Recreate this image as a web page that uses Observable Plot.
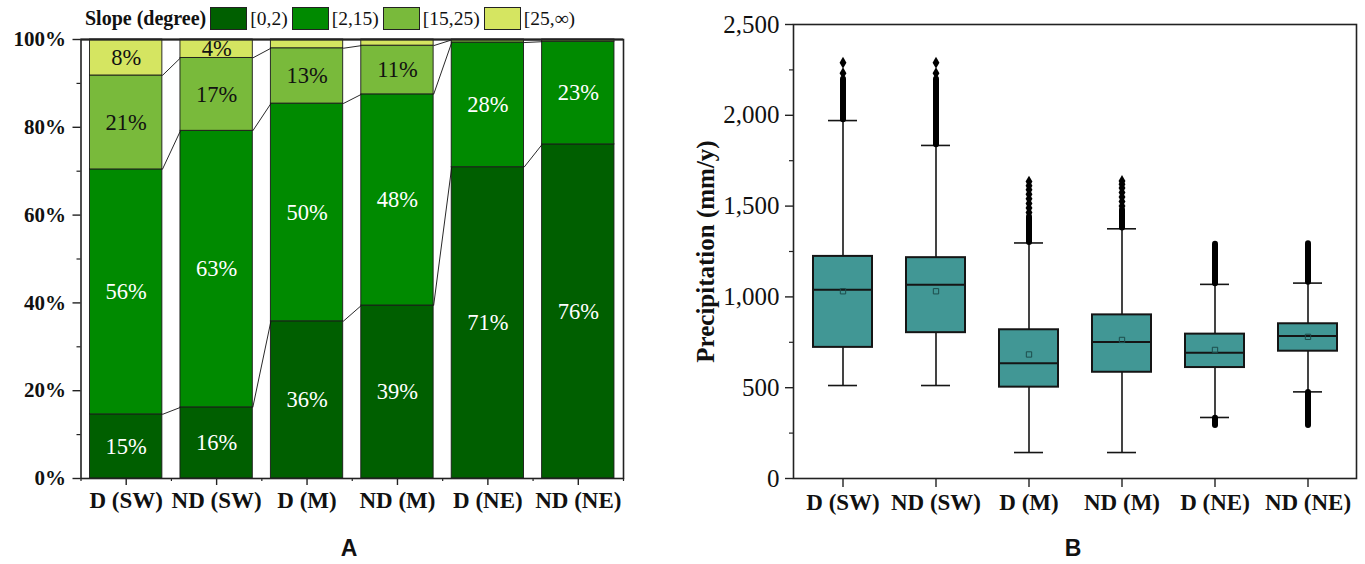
<!DOCTYPE html>
<html>
<head>
<meta charset="utf-8">
<script src="https://cdn.jsdelivr.net/npm/d3@7"></script>
<script src="https://cdn.jsdelivr.net/npm/@observablehq/plot@0.6"></script>
<style>
  html, body { margin: 0; padding: 0; background: #fff; }
  #wrap { position: relative; width: 1365px; height: 564px; background: #fff; overflow: hidden; }
  #left { position: absolute; left: 0; top: 0; }
  #right { position: absolute; left: 640px; top: 0; }
  #legend { position: absolute; left: 85px; top: 7px; display: flex; align-items: center; font-family: "Liberation Serif", serif; color: #111; }
  #legend .title { font-weight: bold; font-size: 20px; margin-right: 4px; }
  #legend .sw { width: 37px; height: 23px; border: 1px solid #222; box-sizing: border-box; margin-right: 3px; }
  #legend .lab { font-size: 19.5px; margin-right: 4px; }
  .cap { position: absolute; top: 535px; font-family: "Liberation Sans", Arial, sans-serif; font-weight: bold; font-size: 23px; color: #111; transform: translateX(-50%); }
</style>
</head>
<body>
<div id="wrap">
  <div id="left"></div>
  <div id="right"></div>
  <div id="legend"></div>
  <div class="cap" style="left:349px">A</div>
  <div class="cap" style="left:1073px">B</div>
</div>
<script>
// ---------- data ----------
const categories = ["D (SW)", "ND (SW)", "D (M)", "ND (M)", "D (NE)", "ND (NE)"];
const slopeClasses = ["[0,2)", "[2,15)", "[15,25)", "[25,∞)"];
const slopeColors = ["#005f00", "#008a00", "#79ba3b", "#d5e561"];
// percentages per slope class, per category
const slope0_2   = [14.6, 16.2, 35.8, 39.4, 70.9, 76.1];
const slope2_15  = [55.8, 63.0, 49.6, 48.1, 28.4, 23.4];
const slope15_25 = [21.4, 16.6, 12.6, 11.1, 0.6, 0.4];
const slope25_inf= [8.2, 4.2, 2.0, 1.4, 0.1, 0.1];
const yTicksA = [0, 20, 40, 60, 80, 100];
const yMinorA = [10, 30, 50, 70, 90];

// boxplot summary (precipitation, mm/y)
const lowerWhisker = [512, 512, 143, 143, 336, 477];
const q1           = [722, 803, 503, 585, 611, 701];
const median       = [1039, 1067, 634, 752, 692, 785];
const mean         = [1031, 1031, 683, 763, 708, 780];
const q3           = [1223, 1216, 819, 901, 795, 852];
const upperWhisker = [1971, 1834, 1297, 1375, 1069, 1076];
// dense outlier runs [category index, from, to]
const outlierRunsCat = [0, 1, 2, 3, 4, 4, 5, 5];
const outlierRunsLo  = [1975, 1838, 1300, 1379, 1073, 292, 1080, 292];
const outlierRunsHi  = [2198, 2198, 1440, 1478, 1290, 332, 1292, 473];
// individual outliers [category index, value]
const outlierCat = [0, 0, 1, 1, 2, 2, 2, 2, 2, 2, 2, 2, 3, 3, 3, 3, 3, 3, 3];
const outlierVal = [2232, 2290, 2232, 2290, 1465, 1490, 1515, 1540, 1565, 1590, 1612, 1635, 1500, 1525, 1550, 1575, 1600, 1620, 1638];
const yTicksB = [0, 500, 1000, 1500, 2000, 2500];
const yMinorB = [250, 750, 1250, 1750, 2250];

// ---------- legend ----------
const legend = document.getElementById("legend");
legend.innerHTML = `<span class="title">Slope (degree)</span>` +
  slopeClasses.map((c, k) => `<span class="sw" style="background:${slopeColors[k]}"></span><span class="lab">${c}</span>`).join("");

// ---------- chart A ----------
const serif = "Liberation Serif, Times New Roman, serif";
const series = [slope0_2, slope2_15, slope15_25, slope25_inf];
const rows = [];
const tops = [];
categories.forEach((cat, i) => {
  let acc = 0;
  series.forEach((s, k) => {
    const v = s[i];
    rows.push({i, k, cls: slopeClasses[k], y1: acc, y2: acc + v, v});
    acc += v;
    (tops[k] ||= [])[i] = acc;
  });
});
const links = [];
for (let k = 0; k < 3; k++) {
  for (let i = 0; i < categories.length - 1; i++) {
    links.push({i, ya: tops[k][i], yb: tops[k][i + 1]});
  }
}
const half = 0.4;
const idx = categories.map((_, i) => i);
const bounds = [-0.5, ...idx.map(i => i + 0.5)];

const chartA = Plot.plot({
  width: 640, height: 520,
  marginLeft: 80.5, marginRight: 17, marginTop: 39, marginBottom: 42,
  style: {fontFamily: serif, background: "transparent"},
  x: {domain: [-0.5, categories.length - 0.5], axis: null},
  y: {domain: [0, 100], axis: null},
  color: {domain: slopeClasses, range: slopeColors},
  marks: [
    Plot.rect(rows, {x1: d => d.i - half, x2: d => d.i + half, y1: "y1", y2: "y2", fill: "cls", stroke: "#1a1a1a", strokeWidth: 0.9}),
    Plot.link(links, {x1: d => d.i + half, x2: d => d.i + 1 - half, y1: "ya", y2: "yb", stroke: "#111", strokeWidth: 0.9}),
    Plot.text(rows.filter(d => d.v >= 3 && d.k < 2), {x: "i", y: d => (d.y1 + d.y2) / 2, text: d => Math.round(d.v) + "%", fill: "white", fontSize: 22.5, fontFamily: serif}),
    Plot.text(rows.filter(d => d.v >= 3 && d.k >= 2), {x: "i", y: d => (d.y1 + d.y2) / 2, text: d => Math.round(d.v) + "%", fill: "#111", fontSize: 22.5, fontFamily: serif}),
    Plot.frame({stroke: "#222", strokeWidth: 1.6}),
    Plot.ruleY([100], {stroke: "#222", strokeWidth: 2.2}),
    Plot.axisY({ticks: yTicksA, tickFormat: d => d + "%", tickSize: 8, tickPadding: 7, fontSize: 21, fontWeight: "bold", fontFamily: serif, fill: "#111", stroke: "#222", strokeWidth: 1.4, label: null}),
    Plot.axisY({ticks: yMinorA, tickFormat: () => "", tickSize: 4, stroke: "#222", strokeWidth: 1.2, label: null}),
    Plot.axisX({ticks: idx, tickFormat: i => categories[i], tickSize: 7, tickPadding: 6, fontSize: 23, fontWeight: "bold", fontFamily: serif, fill: "#111", stroke: "#222", strokeWidth: 1.4, label: null}),
    Plot.axisX({ticks: bounds, tickFormat: () => "", tickSize: 3, stroke: "#222", strokeWidth: 1.2, label: null})
  ]
});
document.getElementById("left").appendChild(chartA);

// ---------- chart B ----------
const boxes = categories.map((cat, i) => ({
  cat, lw: lowerWhisker[i], q1: q1[i], med: median[i], mean: mean[i], q3: q3[i], uw: upperWhisker[i]
}));
const runs = outlierRunsCat.map((c, j) => ({cat: categories[c], lo: outlierRunsLo[j], hi: outlierRunsHi[j]}));
const outs = outlierCat.map((c, j) => ({cat: categories[c], v: outlierVal[j]}));
const ink = "#151515";
const chartB = Plot.plot({
  width: 725, height: 520,
  marginLeft: 153, marginRight: 9, marginTop: 24, marginBottom: 42,
  style: {fontFamily: serif, background: "transparent"},
  x: {type: "band", domain: categories, padding: 0, axis: null},
  y: {domain: [0, 2500], axis: null},
  marks: [
    Plot.ruleX(boxes, {x: "cat", y1: "lw", y2: "q1", stroke: ink, strokeWidth: 1.6}),
    Plot.ruleX(boxes, {x: "cat", y1: "q3", y2: "uw", stroke: ink, strokeWidth: 1.6}),
    Plot.tickY(boxes, {x: "cat", y: "lw", insetLeft: 32, insetRight: 32, stroke: ink, strokeWidth: 1.6}),
    Plot.tickY(boxes, {x: "cat", y: "uw", insetLeft: 32, insetRight: 32, stroke: ink, strokeWidth: 1.6}),
    Plot.ruleX(runs, {x: "cat", y1: "lo", y2: "hi", stroke: "#000", strokeWidth: 6, strokeLinecap: "round"}),
    Plot.dot(outs, {x: "cat", y: "v", symbol: "diamond", r: 3.6, fill: "#000", stroke: "none"}),
    Plot.barY(boxes, {x: "cat", y1: "q1", y2: "q3", insetLeft: 17, insetRight: 17, fill: "#419795", stroke: ink, strokeWidth: 2}),
    Plot.tickY(boxes, {x: "cat", y: "med", insetLeft: 17, insetRight: 17, stroke: ink, strokeWidth: 2}),
    Plot.dot(boxes, {x: "cat", y: "mean", symbol: "square", r: 3, fill: "none", stroke: "#1d4d4c", strokeWidth: 1}),
    Plot.frame({stroke: "#222", strokeWidth: 1.6}),
    Plot.axisY({ticks: yTicksB, tickFormat: d3.format(","), tickSize: 8, tickPadding: 6, fontSize: 25, fontFamily: serif, fill: "#111", stroke: "#222", strokeWidth: 1.4, label: null}),
    Plot.axisY({ticks: yMinorB, tickFormat: () => "", tickSize: 4, stroke: "#222", strokeWidth: 1.2, label: null}),
    Plot.axisX({tickSize: 9, tickPadding: 6, fontSize: 23, fontWeight: "bold", fontFamily: serif, fill: "#111", stroke: "#222", strokeWidth: 1.4, label: null}),
    Plot.text(["Precipitation (mm/y)"], {frameAnchor: "left", textAnchor: "middle", dx: -88, rotate: -90, fontSize: 25, fontWeight: "bold", fontFamily: serif, fill: "#111"})
  ]
});
document.getElementById("right").appendChild(chartB);
</script>
</body>
</html>
